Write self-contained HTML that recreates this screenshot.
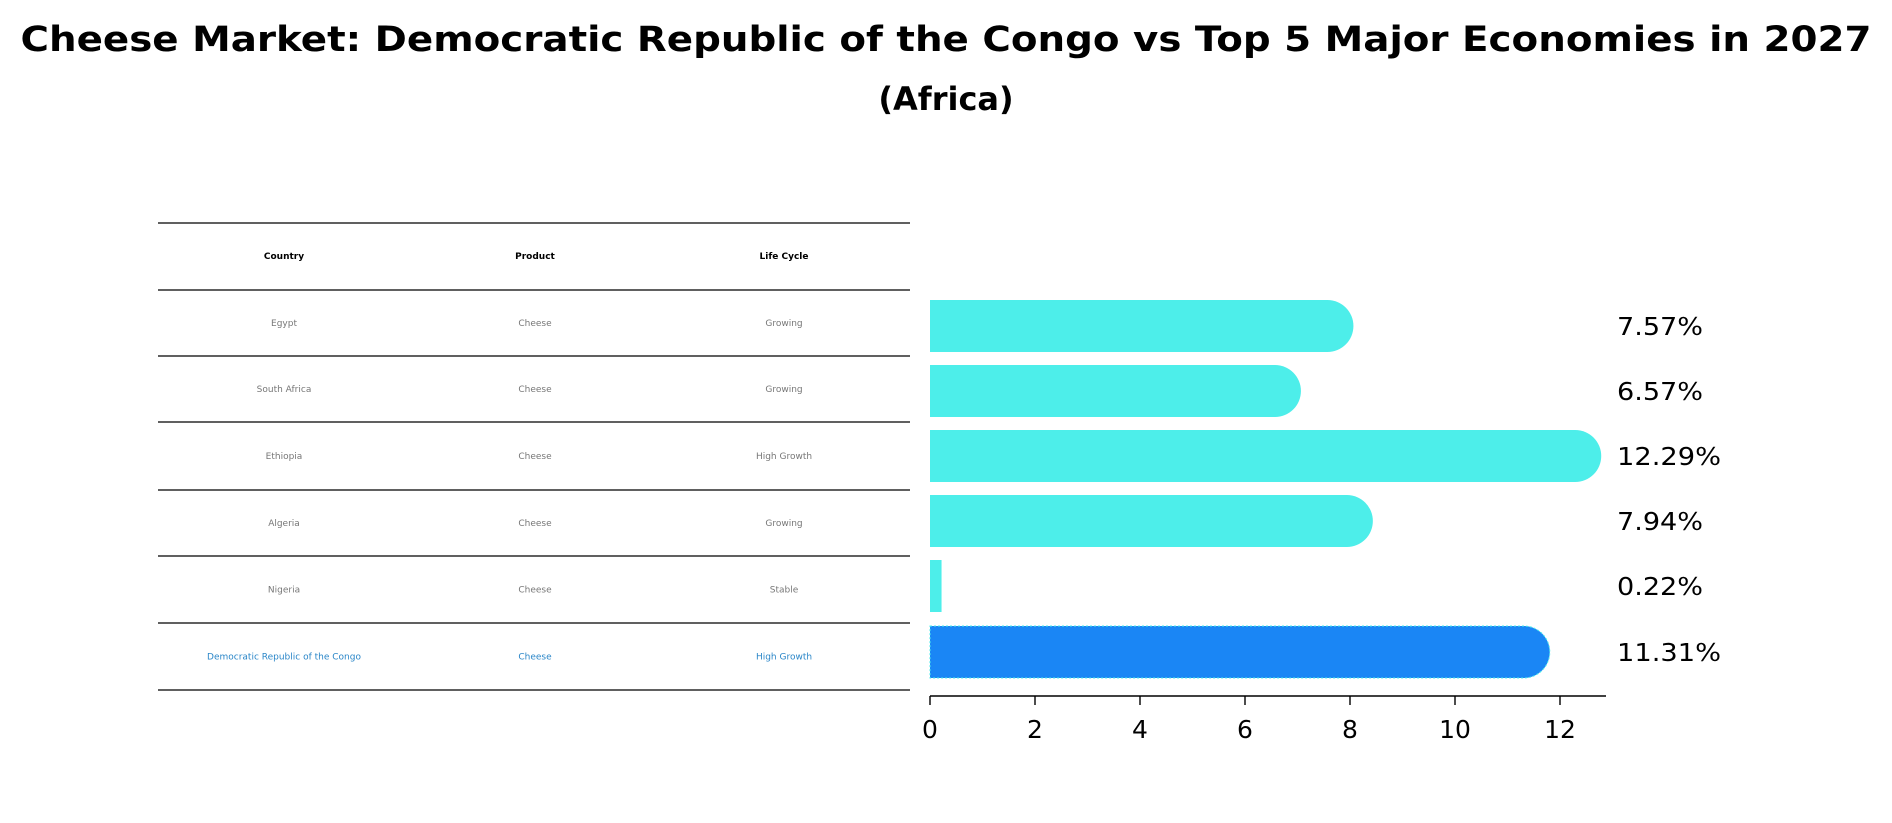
<!DOCTYPE html>
<html><head><meta charset="utf-8"><style>
html,body{margin:0;padding:0;background:#fff;}
svg{display:block;font-family:"DejaVu Sans","Liberation Sans",sans-serif;}
</style></head><body>
<svg id="chart" width="1892" height="823" viewBox="0 0 1892 823">
<text x="946" y="51" text-anchor="middle" font-size="35" font-weight="bold" textLength="1851" lengthAdjust="spacingAndGlyphs">Cheese Market: Democratic Republic of the Congo vs Top 5 Major Economies in 2027</text>
<text x="946" y="110" text-anchor="middle" font-size="32" font-weight="bold">(Africa)</text>
<g id="table"></g>
<g id="bars"></g>
<g id="axis"></g>
</svg>
<script>
const countries=["Egypt","South Africa","Ethiopia","Algeria","Nigeria","Democratic Republic of the Congo"];
const products=["Cheese","Cheese","Cheese","Cheese","Cheese","Cheese"];
const lifeCycles=["Growing","Growing","High Growth","Growing","Stable","High Growth"];
const values=[7.57,6.57,12.29,7.94,0.22,11.31];
const ticks=[0,2,4,6,8,10,12];
const NS="http://www.w3.org/2000/svg";
function mk(tag,attrs,parent,text){const e=document.createElementNS(NS,tag);for(const k in attrs)e.setAttribute(k,attrs[k]);if(text!==undefined)e.textContent=text;parent.appendChild(e);return e;}
const x0=930,unit=52.5;
function xs(v){return x0+v*unit;}
const bh=52;
const tbl=document.getElementById('table');
const colX=[284,535,784];
const lineYs=[223,290,356,422,490,556,623,690];
lineYs.forEach(y=>{const l=mk('line',{x1:158,x2:910,y1:y,y2:y,stroke:'#000','stroke-width':1.3},tbl);

});
["Country","Product","Life Cycle"].forEach((h,j)=>{const t=mk('text',{x:colX[j],y:259,'text-anchor':'middle','font-size':9,'font-weight':'bold'},tbl,h);

});
countries.forEach((c,i)=>{
  const y=(lineYs[i+1]+lineYs[i+2])/2+3;
  const col=i===5?'#2a86c8':'#777';
  [c,products[i],lifeCycles[i]].forEach((v,j)=>{const t=mk('text',{x:colX[j],y:y,'text-anchor':'middle','font-size':9,fill:col},tbl,v);
  
  });
});
const bars=document.getElementById('bars');
const bcs=[326,391,456,521,586,652];
values.forEach((v,i)=>{
  const cy=bcs[i];
  const col=i===5?'#1a86f5':'#4deeea';
  const r=bh/2;let d;
  if(v>1){d=`M${x0},${cy-r} H${xs(v)} A${r},${r} 0 0 1 ${xs(v)},${cy+r} H${x0} Z`;}
  else{d=`M${x0},${cy-r} H${xs(v)} V${cy+r} H${x0} Z`;}
  const p=mk('path',{d:d,fill:col},bars);
  if(i===5){p.setAttribute('stroke','#4deeea');p.setAttribute('stroke-dasharray','2,2');p.setAttribute('stroke-width','1');}
  
  
  const t=mk('text',{x:1617,y:cy+9,'font-size':25,textLength:v>=10?104:86,lengthAdjust:'spacingAndGlyphs'},bars,v.toFixed(2)+'%');
  
  
});
const ax=document.getElementById('axis');
const al=mk('line',{x1:x0,x2:1606,y1:696,y2:696,stroke:'#000','stroke-width':1.6},ax);


ticks.forEach(t=>{
  const l=mk('line',{x1:xs(t),x2:xs(t),y1:696,y2:705,stroke:'#000','stroke-width':1.4},ax);
  
  
  const tx=mk('text',{x:xs(t),y:738,'text-anchor':'middle','font-size':25},ax,String(t));
  
  
});
</script>
</body></html>
